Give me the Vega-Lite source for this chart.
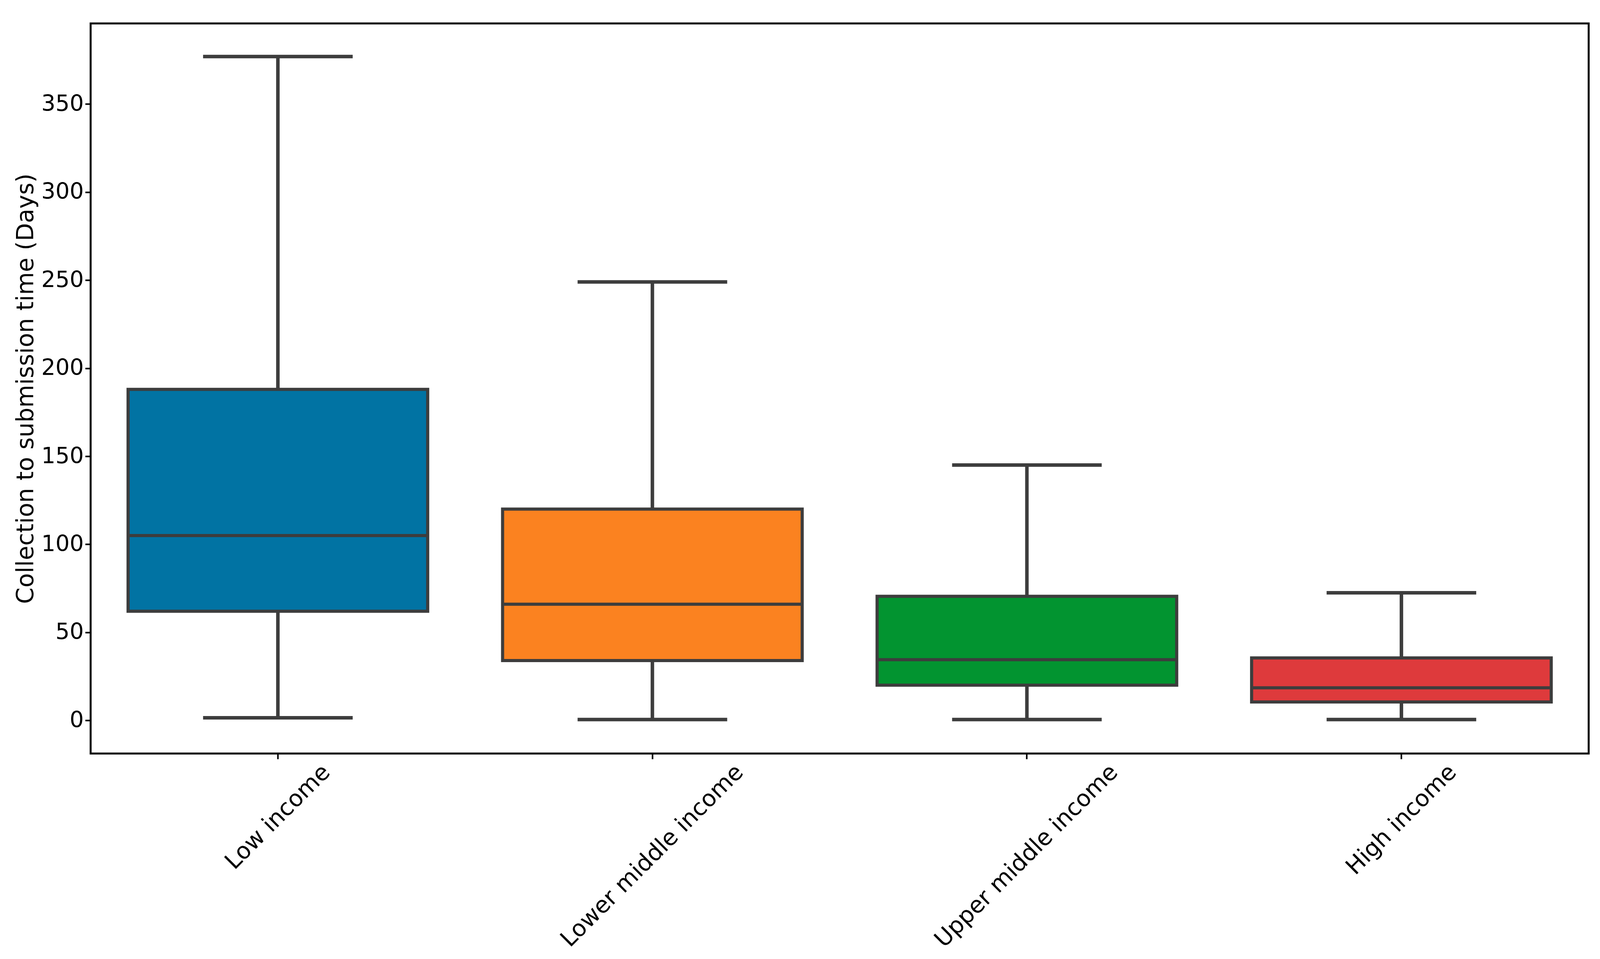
{
  "$schema": "https://vega.github.io/schema/vega-lite/v6.json",
  "width": 3835,
  "height": 1869,
  "autosize": {"type": "none"},
  "padding": {"left": 232, "top": 60, "right": 63, "bottom": 526},
  "background": "white",
  "config": {
    "view": {"stroke": "black", "strokeWidth": 5},
    "font": "DejaVu Sans"
  },
  "data": {
    "values": [
      {"group": "Low income", "min": 1.5, "q1": 62, "median": 105, "q3": 188, "max": 377},
      {"group": "Lower middle income", "min": 0.5, "q1": 34, "median": 66, "q3": 120, "max": 249},
      {"group": "Upper middle income", "min": 0.5, "q1": 20, "median": 34.5, "q3": 70.5, "max": 145},
      {"group": "High income", "min": 0.5, "q1": 10.5, "median": 18.5, "q3": 35.5, "max": 72.5}
    ]
  },
  "encoding": {
    "x": {
      "field": "group",
      "type": "nominal",
      "sort": null,
      "scale": {"paddingInner": 0, "paddingOuter": 0},
      "axis": {
        "title": null,
        "domain": false,
        "grid": false,
        "ticks": true,
        "tickSize": 14,
        "tickWidth": 4,
        "tickColor": "black",
        "labelFontSize": 59,
        "labelColor": "black",
        "labelLimit": 0,
        "labelOverlap": false,
        "labelAngle": -45,
        "labelAlign": "right",
        "labelBaseline": "middle",
        "labelPadding": 24,
        "labelOffset": {
          "condition": [
            {"test": "datum.value == 'Low income'", "value": 124},
            {"test": "datum.value == 'High income'", "value": 131}
          ],
          "value": 223
        }
      }
    }
  },
  "layer": [
    {
      "mark": {"type": "rule", "color": "#3d3d3d", "strokeWidth": 9},
      "encoding": {
        "y": {
          "field": "min",
          "type": "quantitative",
          "scale": {"domain": [-18.8, 395.8], "nice": false, "zero": false},
          "axis": {
            "values": [0, 50, 100, 150, 200, 250, 300, 350],
            "title": "Collection to submission time (Days)",
            "titleFontSize": 60,
            "titleFontWeight": "normal",
            "titleColor": "black",
            "titlePadding": 8,
            "labelFontSize": 57,
            "labelColor": "black",
            "labelPadding": 4,
            "tickSize": 14,
            "tickWidth": 4,
            "tickColor": "black",
            "domain": false,
            "grid": false
          }
        },
        "y2": {"field": "max"}
      }
    },
    {
      "mark": {"type": "bar", "width": {"band": 0.8}, "stroke": "#3d3d3d", "strokeWidth": 8, "opacity": 1},
      "encoding": {
        "y": {"field": "q1", "type": "quantitative"},
        "y2": {"field": "q3"},
        "fill": {
          "field": "group",
          "type": "nominal",
          "scale": {
            "domain": ["Low income", "Lower middle income", "Upper middle income", "High income"],
            "range": ["#0173a3", "#fb8220", "#029430", "#de3a3c"]
          },
          "legend": null
        }
      }
    },
    {
      "mark": {"type": "tick", "color": "#3d3d3d", "opacity": 1, "thickness": 8, "size": 760},
      "encoding": {"y": {"field": "median", "type": "quantitative"}}
    },
    {
      "mark": {"type": "tick", "color": "#3d3d3d", "opacity": 1, "thickness": 9, "size": 383},
      "encoding": {"y": {"field": "min", "type": "quantitative"}}
    },
    {
      "mark": {"type": "tick", "color": "#3d3d3d", "opacity": 1, "thickness": 9, "size": 383},
      "encoding": {"y": {"field": "max", "type": "quantitative"}}
    }
  ]
}
